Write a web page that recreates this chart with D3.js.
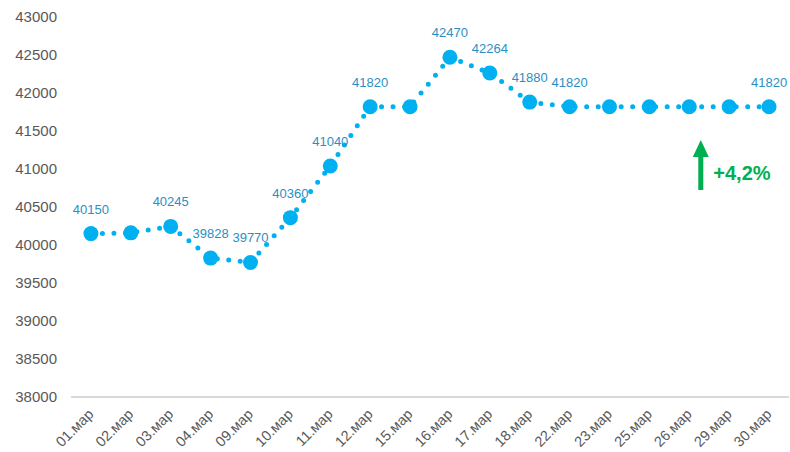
<!DOCTYPE html>
<html>
<head>
<meta charset="utf-8">
<script src="https://cdn.jsdelivr.net/npm/d3@7"></script>
<style>
    body { margin: 0; background: #fff; }
    svg { font-family: "Liberation Sans", Arial, sans-serif; }
    .limit-line { stroke: #d9d9d9; stroke-width: 2; }
</style>
</head>
<body>
<div id="chart"></div>
<script>
var dates = ["01.мар", "02.мар", "03.мар", "04.мар", "09.мар", "10.мар", "11.мар", "12.мар", "15.мар",
    "16.мар", "17.мар", "18.мар", "22.мар", "23.мар", "25.мар", "26.мар", "29.мар", "30.мар"];
var prices = [40150, 40160, 40245, 39828, 39770, 40360, 41040, 41820, 41820,
    42470, 42264, 41880, 41820, 41820, 41820, 41820, 41820, 41820];
// which points carry a data label
var showLabel = [1, 0, 1, 1, 1, 1, 1, 1, 0, 1, 1, 1, 1, 0, 0, 0, 0, 1];
var yTicks = [38000, 38500, 39000, 39500, 40000, 40500, 41000, 41500, 42000, 42500, 43000];
var changeText = "+4,2%";

var data = dates.map(function(d, i) {
    return { date: d, value: prices[i], label: showLabel[i] };
});

var margin = { top: 17, right: 1, bottom: 55, left: 71 },
    width = 790 - margin.left - margin.right,
    height = 452 - margin.top - margin.bottom;

var svg = d3.select("#chart").append("svg")
    .attr("width", 790)
    .attr("height", 452)
    .append("g")
    .attr("transform", "translate(" + margin.left + "," + margin.top + ")");

var x = d3.scalePoint()
    .domain(dates)
    .range([0, width])
    .padding(0.5);

var y = d3.scaleLinear()
    .domain([38000, 43000])
    .range([height, 0]);

// y axis labels only
var yAxis = svg.append("g")
    .call(d3.axisLeft(y).tickValues(yTicks).tickSize(0).tickPadding(14).tickFormat(d3.format("d")));
yAxis.select(".domain").remove();
yAxis.selectAll("text")
    .attr("fill", "#595959")
    .style("font-size", "15px")
    .style("font-family", "Liberation Sans, Arial, sans-serif");

// baseline
svg.append("line")
    .attr("class", "limit-line")
    .attr("x1", 0)
    .attr("x2", width)
    .attr("y1", y(38000))
    .attr("y2", y(38000));

// x axis labels, rotated
var xAxis = svg.append("g")
    .attr("transform", "translate(0," + height + ")")
    .call(d3.axisBottom(x).tickSize(0));
xAxis.select(".domain").remove();
xAxis.selectAll("text")
    .attr("fill", "#595959")
    .style("font-size", "14.5px")
    .style("font-family", "Liberation Sans, Arial, sans-serif")
    .style("text-anchor", "end")
    .attr("dy", null)
    .attr("y", 0)
    .attr("transform", "translate(3,18) rotate(-45)");

// dotted line
var line = d3.line()
    .x(function(d) { return x(d.date); })
    .y(function(d) { return y(d.value); });

svg.append("path")
    .datum(data)
    .attr("d", line)
    .attr("fill", "none")
    .attr("stroke", "#00b0f0")
    .attr("stroke-width", 5)
    .attr("stroke-linecap", "round")
    .attr("stroke-dasharray", "0 11.5");

// markers
svg.selectAll(".dot")
    .data(data)
    .enter().append("circle")
    .attr("class", "dot")
    .attr("cx", function(d) { return x(d.date); })
    .attr("cy", function(d) { return y(d.value); })
    .attr("r", 7.5)
    .attr("fill", "#00b0f0");

// data labels
svg.selectAll(".val")
    .data(data.filter(function(d) { return d.label; }))
    .enter().append("text")
    .attr("class", "val")
    .attr("x", function(d) { return x(d.date); })
    .attr("y", function(d) { return y(d.value) - 20; })
    .attr("text-anchor", "middle")
    .attr("fill", "#2a8fc4")
    .style("font-size", "13px")
    .text(function(d) { return d.value; });

// green arrow with change
var ax = x("26.мар") + 11.5;
var arrow = svg.append("g").attr("fill", "#00b050");
arrow.append("rect")
    .attr("x", ax - 2.5)
    .attr("y", 150 - margin.top)
    .attr("width", 5)
    .attr("height", 40);
arrow.append("path")
    .attr("d", "M" + (ax - 8) + "," + (157 - margin.top) + " L" + ax + "," + (140 - margin.top) +
        " L" + (ax + 8) + "," + (157 - margin.top) + " Z");
svg.append("text")
    .attr("x", ax + 12.5)
    .attr("y", 180 - margin.top)
    .attr("fill", "#00b050")
    .style("font-size", "20px")
    .style("font-weight", "bold")
    .text(changeText);
</script>
</body>
</html>
